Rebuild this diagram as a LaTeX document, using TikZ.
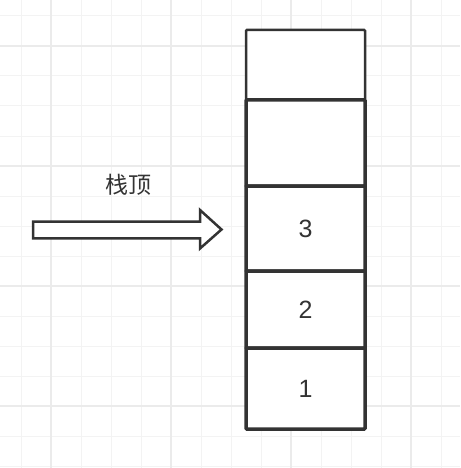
\documentclass[tikz,border=0pt]{standalone}
\usepackage{fontspec}
\setmainfont{Liberation Sans}
\newfontfamily\cjk{Noto Sans CJK SC}
\definecolor{ink}{HTML}{333333}
\definecolor{gridminor}{HTML}{F3F3F3}
\definecolor{gridmajor}{HTML}{EBEBEB}
\begin{document}
\begin{tikzpicture}[x=1pt,y=-1pt,
  cell/.style={draw=ink, line width=3.5pt, fill=white, rounded corners=0.8pt,
    minimum width=119pt, inner sep=0pt, outer sep=0pt, anchor=north west,
    font=\fontsize{25}{25}\selectfont, text=ink},
  topcell/.style={cell, line width=2.5pt},
  label/.style={font=\cjk\fontsize{23}{23}\selectfont, text=ink, inner sep=0pt}]
\useasboundingbox (0,0) rectangle (460,468);
\fill[white] (0,0) rectangle (460,468);
% grid
\foreach \x in {21,51,...,441} \draw[gridminor, line width=1pt] (\x,0) -- (\x,468);
\foreach \y in {16,46,...,466} \draw[gridminor, line width=1pt] (0,\y) -- (460,\y);
\foreach \x in {51,171,291,411} \draw[gridmajor, line width=1.2pt] (\x,0) -- (\x,468);
\foreach \y in {46,166,286,406} \draw[gridmajor, line width=1.2pt] (0,\y) -- (460,\y);
% stack
\node[topcell, minimum height=70pt] (c5) at (246,30) {};
\node[cell, minimum height=86pt] (c4) at (246,100) {};
\node[cell, minimum height=85pt] (c3) at (246,186) {3};
\node[cell, minimum height=77pt] (c2) at (246,271) {2};
\node[cell, minimum height=81pt] (c1) at (246,348) {1};
% arrow
\draw[ink, line width=2.5pt, fill=white, line join=miter]
  (33,221.7) -- (200,221.7) -- (200,210) -- (221.5,229.5) -- (200,248.5)
  -- (200,238.3) -- (33,238.3) -- cycle;
\node[label] (top) at (128,185) {栈顶};
\end{tikzpicture}
\end{document}
